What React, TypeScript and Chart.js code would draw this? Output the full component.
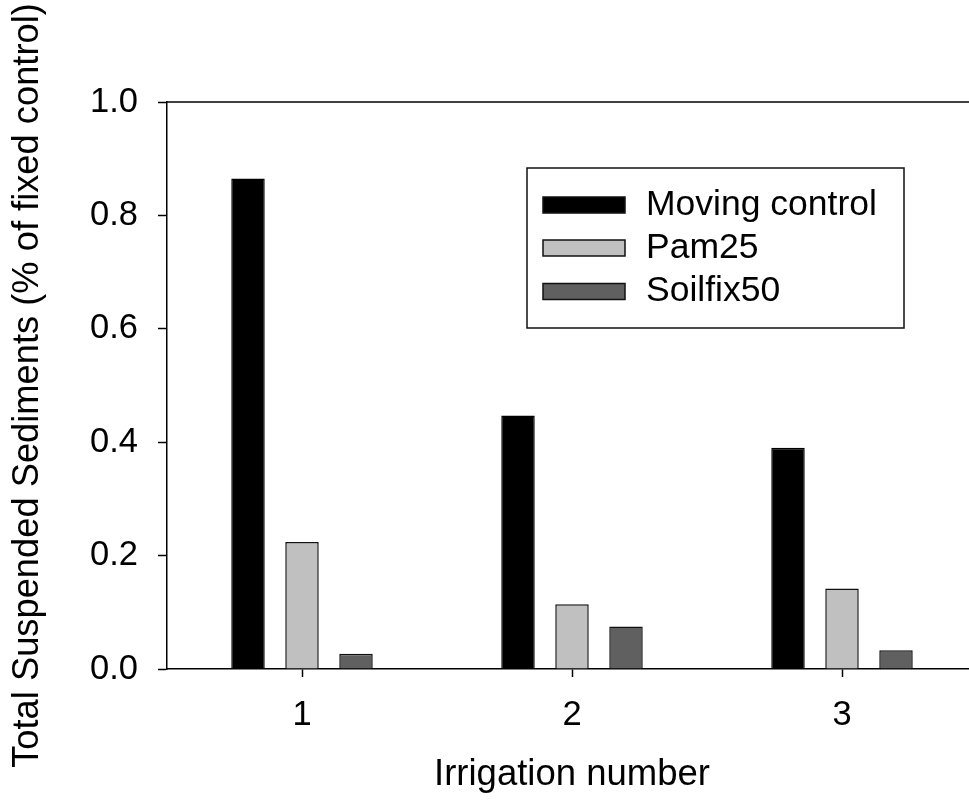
import React, { useEffect, useRef } from "react";
import { Chart, registerables } from "chart.js";

Chart.register(...registerables);

const categories = ["1", "2", "3"];
const seriesNames = ["Moving control", "Pam25", "Soilfix50"];
const movingControl = [0.865, 0.447, 0.39];
const pam25 = [0.224, 0.114, 0.142];
const soilfix50 = [0.027, 0.075, 0.033];
const yTickValues = [0, 0.2, 0.4, 0.6, 0.8, 1.0];

const FONT = "'Liberation Sans', Arial, Helvetica, sans-serif";

const frameAndLegend = {
  id: "frameAndLegend",
  afterDraw(chart: any) {
    const { ctx, chartArea } = chart;
    ctx.save();
    // top frame line
    ctx.strokeStyle = "#000";
    ctx.lineWidth = 1.5;
    ctx.beginPath();
    ctx.moveTo(chartArea.left, chartArea.top);
    ctx.lineTo(chart.width, chartArea.top);
    ctx.stroke();

    // legend box
    const bx = chartArea.left + 360;
    const by = chartArea.top + 66;
    const bw = 377;
    const bh = 160;
    ctx.fillStyle = "#fff";
    ctx.fillRect(bx, by, bw, bh);
    ctx.lineWidth = 1.5;
    ctx.strokeStyle = "#111";
    ctx.strokeRect(bx, by, bw, bh);

    const rows = [37, 80, 123.5];
    chart.data.datasets.forEach((ds: any, i: number) => {
      const cy = by + rows[i];
      ctx.fillStyle = ds.backgroundColor;
      ctx.fillRect(bx + 16, cy - 8, 82, 16);
      ctx.lineWidth = 1.5;
      ctx.strokeStyle = "#111";
      ctx.strokeRect(bx + 16, cy - 8, 82, 16);
      ctx.fillStyle = "#000";
      ctx.font = `35.5px ${FONT}`;
      ctx.textBaseline = "middle";
      ctx.textAlign = "left";
      ctx.fillText(ds.label, bx + 119, cy);
    });
    ctx.restore();
  },
};

export default function App() {
  const ref = useRef<HTMLCanvasElement | null>(null);

  useEffect(() => {
    if (!ref.current) return;
    const chart = new Chart(ref.current, {
      type: "bar",
      data: {
        labels: categories,
        datasets: [
          {
            label: seriesNames[0],
            data: movingControl,
            backgroundColor: "#000000",
            borderColor: "#000000",
            borderWidth: 1.5,
          },
          {
            label: seriesNames[1],
            data: pam25,
            backgroundColor: "#c0c0c0",
            borderColor: "#111111",
            borderWidth: 1.5,
          },
          {
            label: seriesNames[2],
            data: soilfix50,
            backgroundColor: "#606060",
            borderColor: "#111111",
            borderWidth: 1.5,
          },
        ],
      },
      options: {
        animation: false,
        responsive: true,
        maintainAspectRatio: false,
        devicePixelRatio: 1,
        layout: { padding: { top: 102, right: 13, left: 0, bottom: 0 } },
        datasets: {
          bar: { categoryPercentage: 0.6, barPercentage: 0.62 },
        },
        plugins: {
          legend: { display: false },
          tooltip: { enabled: false },
        },
        scales: {
          x: {
            offset: true,
            grid: {
              offset: false,
              drawOnChartArea: false,
              drawTicks: true,
              tickLength: 8,
              tickWidth: 1.5,
              tickColor: "#000",
            },
            border: { display: true, color: "#000", width: 1.5 },
            ticks: {
              color: "#000",
              font: { family: FONT, size: 34.5 },
              padding: 18,
            },
            title: {
              display: true,
              text: "Irrigation number",
              color: "#000",
              font: { family: FONT, size: 36.5 },
              padding: { top: 0, bottom: 3 },
            },
            afterFit(scale: any) {
              scale.height = 131;
            },
          },
          y: {
            min: 0,
            max: 1,
            afterBuildTicks(scale: any) {
              scale.ticks = yTickValues.map((v) => ({ value: v }));
            },
            grid: {
              drawOnChartArea: false,
              drawTicks: true,
              tickLength: 9,
              tickWidth: 1.5,
              tickColor: "#000",
            },
            border: { display: true, color: "#000", width: 1.5 },
            ticks: {
              color: "#000",
              font: { family: FONT, size: 34.5 },
              padding: 20,
              callback: (v: any) => Number(v).toFixed(1),
            },
            title: {
              display: true,
              text: "Total Suspended Sediments (% of fixed control)",
              color: "#000",
              font: { family: FONT, size: 36.3 },
              padding: { top: 6, bottom: 0 },
            },
            afterFit(scale: any) {
              scale.width = 167;
            },
          },
        },
      },
      plugins: [frameAndLegend],
    });
    return () => chart.destroy();
  }, []);

  return (
    <div
      style={{
        position: "fixed",
        left: 0,
        top: 0,
        width: 990,
        height: 800,
        background: "#fff",
      }}
    >
      <canvas ref={ref} />
    </div>
  );
}
